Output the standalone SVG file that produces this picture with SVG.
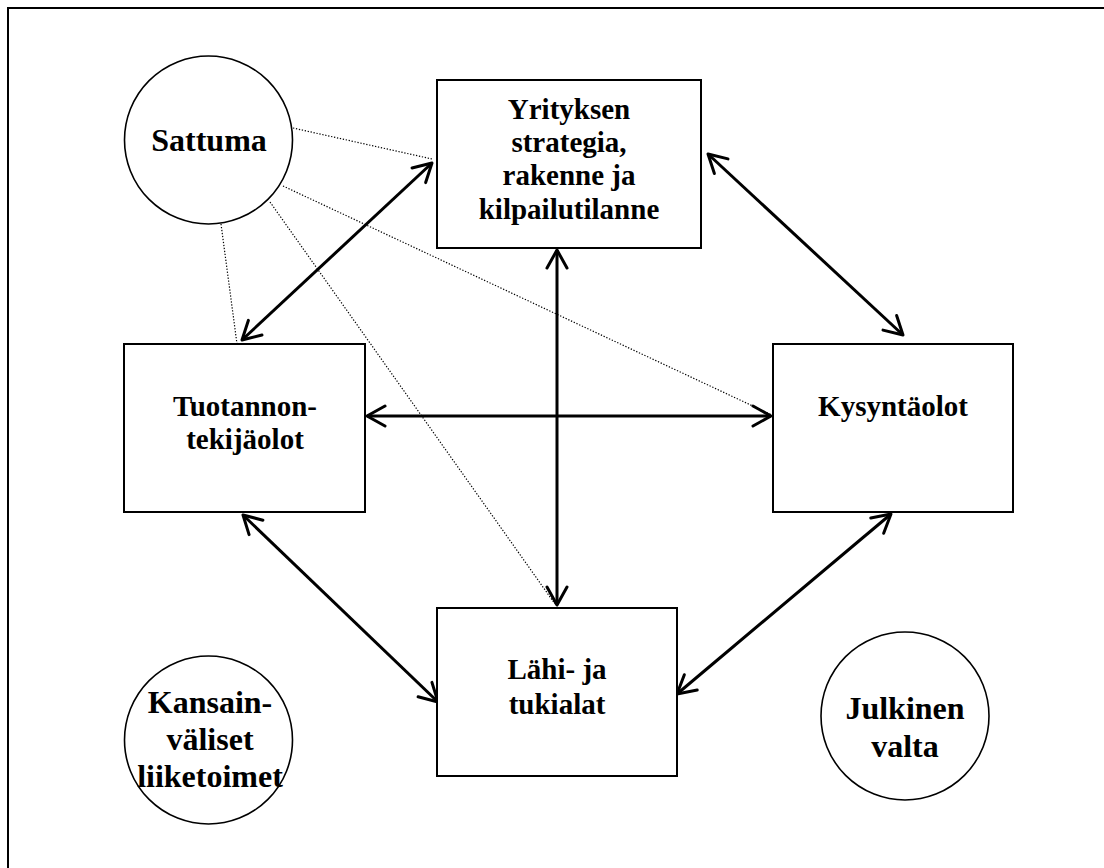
<svg xmlns="http://www.w3.org/2000/svg" width="1104" height="868" viewBox="0 0 1104 868">
<style>
.frame{fill:none;stroke:#000;stroke-width:2}
.box{fill:#fff;stroke:#000;stroke-width:2}
.circ{fill:#fff;stroke:#000;stroke-width:1.6}
.bt{font-family:"Liberation Serif","Times New Roman",serif;font-weight:bold;font-size:29px;text-anchor:middle;fill:#000}
.ct{font-family:"Liberation Serif","Times New Roman",serif;font-weight:bold;font-size:32px;text-anchor:middle;fill:#000}
.arr{stroke:#000;stroke-width:3;fill:none;marker-start:url(#ah);marker-end:url(#ah)}
.dot{stroke:#000;stroke-width:1.2;fill:none;stroke-dasharray:1.3 1.7}
</style>
<defs>
<marker id="ah" markerUnits="userSpaceOnUse" viewBox="-22 -12 24 24" refX="0" refY="0" markerWidth="24" markerHeight="24" orient="auto-start-reverse">
<path d="M-18,-10 L0,0 L-18,10" fill="none" stroke="#000" stroke-width="3" stroke-linecap="round" stroke-linejoin="round"/>
</marker>
</defs>
<rect class="frame" x="8" y="8" width="1110" height="880"/>
<g id="connectors">
<line class="dot" x1="293" y1="128" x2="432" y2="159"/>
<line class="dot" x1="283" y1="186" x2="772" y2="415"/>
<line class="dot" x1="270" y1="202" x2="555" y2="604"/>
<line class="dot" x1="221" y1="224" x2="237" y2="344"/>
<line class="arr" x1="242" y1="340" x2="432" y2="163"/>
<line class="arr" x1="708" y1="154" x2="903" y2="335"/>
<line class="arr" x1="367" y1="416" x2="771" y2="416"/>
<line class="arr" x1="557" y1="250" x2="557" y2="605"/>
<line class="arr" x1="243" y1="515" x2="438" y2="702"/>
<line class="arr" x1="891" y1="514" x2="677" y2="694"/>
</g>
<g id="sattuma">
<circle class="circ" cx="208.5" cy="140" r="84"/>
<text class="ct" x="209" y="151">Sattuma</text>
</g>
<g id="yrityksen">
<rect class="box" x="437" y="80" width="264" height="168"/>
<text class="bt" x="569" y="119">Yrityksen</text>
<text class="bt" x="569" y="152">strategia,</text>
<text class="bt" x="569" y="185">rakenne ja</text>
<text class="bt" x="569" y="219">kilpailutilanne</text>
</g>
<g id="tuotannon">
<rect class="box" x="124" y="344" width="241" height="168"/>
<text class="bt" x="245" y="416">Tuotannon-</text>
<text class="bt" x="245" y="449">tekijäolot</text>
</g>
<g id="kysynta">
<rect class="box" x="773" y="344" width="240" height="168"/>
<text class="bt" x="893" y="416">Kysyntäolot</text>
</g>
<g id="lahi">
<rect class="box" x="437" y="608" width="240" height="168"/>
<text class="bt" x="557" y="679">Lähi- ja</text>
<text class="bt" x="557" y="714">tukialat</text>
</g>
<g id="kansain">
<circle class="circ" cx="208.5" cy="740" r="84"/>
<text class="ct" x="210" y="713">Kansain-</text>
<text class="ct" x="210" y="750">väliset</text>
<text class="ct" x="210" y="787">liiketoimet</text>
</g>
<g id="julkinen">
<circle class="circ" cx="905" cy="716" r="84"/>
<text class="ct" x="905" y="719">Julkinen</text>
<text class="ct" x="905" y="757">valta</text>
</g>
</svg>
